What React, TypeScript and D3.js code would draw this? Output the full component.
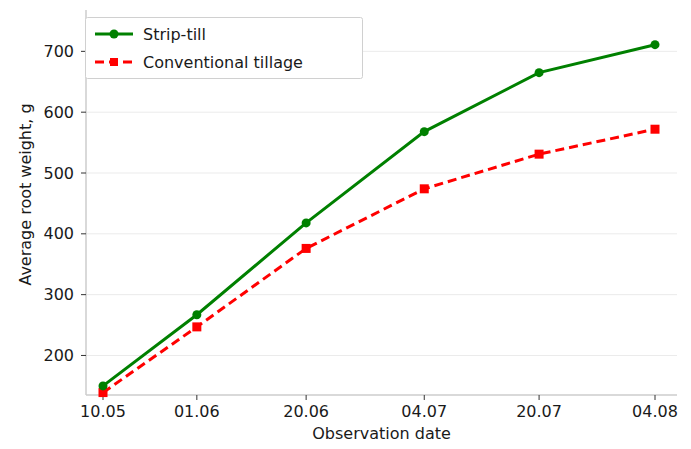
import React from "react";
import * as d3 from "d3";

const dates = ["10.05", "01.06", "20.06", "04.07", "20.07", "04.08"];
const stripTill = [150, 267, 418, 568, 665, 711];
const conventional = [139, 247, 376, 474, 531, 572];
const yTicks = [200, 300, 400, 500, 600, 700];
const seriesNames = ["Strip-till", "Conventional tillage"];

// layout
const W = 691;
const H = 449;
const M = { left: 86, right: 677, top: 10, bottom: 395 };
const xFrac = [0.0, 0.17, 0.368, 0.582, 0.79, 1.0];
const xInnerL = 103;
const xInnerR = 655;
const FONT = "DejaVu Sans, sans-serif";
const FS = 16;

export default function App() {
  const x = d3
    .scaleLinear()
    .domain(dates.map((_, i) => i))
    .range(xFrac.map((f) => xInnerL + f * (xInnerR - xInnerL)));
  const y = d3.scaleLinear().domain([135, 768]).range([M.bottom, M.top]);

  const line = d3
    .line<number>()
    .x((_, i) => x(i))
    .y((d) => y(d));

  const green = "#008000";
  const red = "#ff0000";
  const txt = "#1a1a1a";

  return (
    <svg
      width={W}
      height={H}
      style={{ position: "absolute", left: 0, top: 0, background: "#fff" }}
      fontFamily={FONT}
    >
      {/* grid */}
      {yTicks.map((t) => (
        <line
          key={"g" + t}
          x1={M.left}
          x2={M.right}
          y1={y(t)}
          y2={y(t)}
          stroke="#ebebeb"
          strokeWidth={1}
        />
      ))}
      {/* spines */}
      <line x1={M.left} x2={M.left} y1={M.top} y2={M.bottom} stroke="#cccccc" strokeWidth={1.5} />
      <line x1={M.left} x2={M.right} y1={M.bottom} y2={M.bottom} stroke="#cccccc" strokeWidth={1.5} />
      {/* y ticks */}
      {yTicks.map((t) => (
        <g key={"y" + t}>
          <line x1={M.left - 5} x2={M.left} y1={y(t)} y2={y(t)} stroke="#333" strokeWidth={1} />
          <text
            x={M.left - 12}
            y={y(t)}
            dy="0.35em"
            textAnchor="end"
            fontSize={FS}
            fill={txt}
          >
            {t}
          </text>
        </g>
      ))}
      {/* x ticks */}
      {dates.map((d, i) => (
        <g key={"x" + d}>
          <line x1={x(i)} x2={x(i)} y1={M.bottom} y2={M.bottom + 5} stroke="#333" strokeWidth={1} />
          <text x={x(i)} y={M.bottom + 22} textAnchor="middle" fontSize={FS} fill={txt}>
            {d}
          </text>
        </g>
      ))}
      {/* axis labels */}
      <text
        x={(M.left + M.right) / 2}
        y={439}
        textAnchor="middle"
        fontSize={FS}
        fill={txt}
      >
        Observation date
      </text>
      <text
        transform={`translate(31, ${(M.top + M.bottom) / 2 - 8}) rotate(-90)`}
        textAnchor="middle"
        fontSize={FS}
        fill={txt}
      >
        Average root weight, g
      </text>

      {/* series */}
      <path d={line(conventional) || ""} fill="none" stroke={red} strokeWidth={3} strokeDasharray="9,5" />
      {conventional.map((v, i) => (
        <rect key={"c" + i} x={x(i) - 4.5} y={y(v) - 4.5} width={9} height={9} fill={red} />
      ))}
      <path d={line(stripTill) || ""} fill="none" stroke={green} strokeWidth={3} />
      {stripTill.map((v, i) => (
        <circle key={"s" + i} cx={x(i)} cy={y(v)} r={4.5} fill={green} />
      ))}

      {/* legend */}
      <rect x={85.5} y={17.5} width={277} height={61} rx={2} fill="#fff" stroke="#d0d0d0" strokeWidth={1} />
      <line x1={95} x2={133} y1={34} y2={34} stroke={green} strokeWidth={3} />
      <circle cx={114} cy={34} r={4.5} fill={green} />
      <text x={143} y={34} dy="0.35em" fontSize={FS} fill={txt}>
        {seriesNames[0]}
      </text>
      <line x1={95} x2={133} y1={62} y2={62} stroke={red} strokeWidth={3} strokeDasharray="9,5" />
      <rect x={110} y={58} width={8} height={8} fill={red} />
      <text x={143} y={62} dy="0.35em" fontSize={FS} fill={txt}>
        {seriesNames[1]}
      </text>
    </svg>
  );
}
